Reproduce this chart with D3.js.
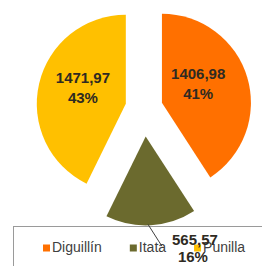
<!DOCTYPE html>
<html>
<head>
<meta charset="utf-8">
<script src="https://cdn.jsdelivr.net/npm/d3@7"></script>
<style>
  html, body { margin: 0; padding: 0; background: #ffffff; }
  svg { display: block; }
</style>
</head>
<body>
<svg id="chart" width="262" height="266"></svg>
<script>
// ---- data ----
const categories = ["Diguillín", "Itata", "Punilla"];
const values = [1406.98, 565.57, 1471.97];
const colors = ["#FF7000", "#6B6A2E", "#FFC000"];
const explode = [0.21, 0.32, 0.21]; // fraction of radius

// ---- layout ----
const W = 262, H = 266;
const cx = 144, cy = 108, R = 89;

const svg = d3.select("#chart");
const locale = d3.formatLocale({decimal: ",", thousands: ".", grouping: [3], currency: ["", ""]});
const fmt = locale.format(".2f");
const total = d3.sum(values);

const pie = d3.pie().sort(null).value(d => d.v);
const data = categories.map((c, i) => ({c, v: values[i], col: colors[i], ex: explode[i], i}));
const arcs = pie(data);
const arc = d3.arc().innerRadius(0).outerRadius(R);

function offset(a, dist) {
  const m = (a.startAngle + a.endAngle) / 2;
  return [Math.sin(m) * dist, -Math.cos(m) * dist];
}

// ---- legend box ----
svg.append("rect")
  .attr("x", 13.5).attr("y", 226.5)
  .attr("width", 300).attr("height", 100)
  .attr("fill", "#ffffff")
  .attr("stroke", "#9a9a9a").attr("stroke-width", 1);

// legend items
const legend = svg.append("g").attr("font-family", "Liberation Sans, Arial, sans-serif")
  .attr("font-size", 14).attr("fill", "#404040");
let lx = 43;
const ly = 252;
data.forEach((d, i) => {
  legend.append("rect").attr("x", lx).attr("y", ly - 7.5).attr("width", 7).attr("height", 7).attr("fill", d.col);
  const t = legend.append("text").attr("x", lx + 9).attr("y", ly).text(d.c);
  const w = t.node().getComputedTextLength();
  lx = lx + 9 + w + 28;
});

// ---- slices ----
const g = svg.append("g").attr("transform", `translate(${cx},${cy})`);
arcs.forEach(a => {
  const [ox, oy] = offset(a, a.data.ex * R);
  g.append("path")
    .attr("d", arc(a))
    .attr("transform", `translate(${ox},${oy})`)
    .attr("fill", a.data.col);
});

// ---- data labels ----
const labelFont = "Liberation Sans, Arial, sans-serif";
const lbl = svg.append("g").attr("font-family", labelFont).attr("font-weight", "bold")
  .attr("font-size", 15).attr("fill", "#2e2a22").attr("text-anchor", "middle");

arcs.forEach(a => {
  const [ox, oy] = offset(a, a.data.ex * R);
  const pct = Math.round(a.data.v / total * 100) + "%";
  if (a.data.c === "Itata") {
    // outside label with leader line
    const [px, py] = offset(a, R);
    const sx = cx + ox + px, sy = cy + oy + py;
    const tx = sx + 44, ty = sy + 20;
    svg.append("line")
      .attr("x1", sx - 3).attr("y1", sy - 1)
      .attr("x2", tx - 33).attr("y2", ty + 1)
      .attr("stroke", "#404040").attr("stroke-width", 1);
    lbl.append("text").attr("x", tx).attr("y", ty).text(fmt(a.data.v));
    lbl.append("text").attr("x", tx - 2).attr("y", ty + 17).text(pct);
  } else {
    const [px, py] = offset(a, R * 0.46);
    const x = cx + ox + px - 3, y = cy + oy + py - 7;
    lbl.append("text").attr("x", x).attr("y", y - 5).text(fmt(a.data.v));
    lbl.append("text").attr("x", x).attr("y", y + 15).text(pct);
  }
});
</script>
</body>
</html>
